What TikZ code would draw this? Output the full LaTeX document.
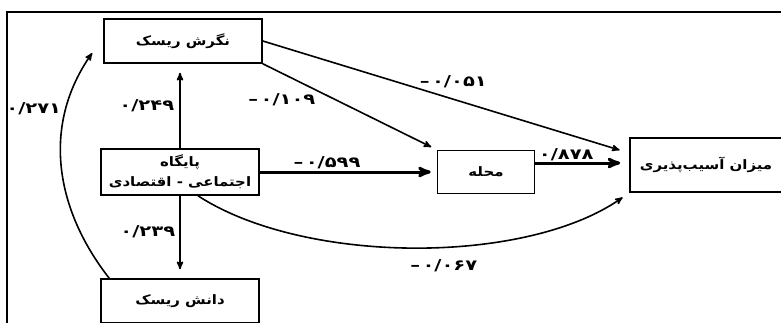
\documentclass[tikz,border=0pt]{standalone}
\usepackage{fontspec}
\newfontfamily\farsi[Script=Arabic,FakeStretch=1.15]{DejaVu Sans}
\newfontfamily\digits[FakeStretch=1.3]{DejaVu Sans}
\TeXXeTstate=1
\usetikzlibrary{arrows}

\begin{document}
\begin{tikzpicture}[->,>=stealth',x=1pt,y=1pt,line width=1.6pt,
  node distance=131pt,font=\farsi\bfseries\fontsize{13}{20}\selectfont]
  \tikzstyle{box}=[draw,minimum width=158pt,minimum height=44pt,inner sep=2pt]
  \tikzstyle{coef}=[draw=none,inner sep=2pt,font=\digits\bfseries\fontsize{15}{18}\selectfont]

  \useasboundingbox (0,0) rectangle (781,322);
  \draw[-,line width=1.8pt] (7,-2) -- (7,310) -- (783,310);

  \node[box]         (P) at (180,150) [align=center,minimum height=46pt]
    {\beginR پایگاه\endR\\ \beginR اجتماعی - اقتصادی\endR};
  \node[box]         (N) [above of=P,xshift=3pt] {\beginR نگرش ریسک\endR};
  \node[box]         (D) [below of=P,node distance=129pt] {\beginR دانش ریسک\endR};
  \node[box,minimum width=97pt,minimum height=43pt]
                     (M) [right of=P,node distance=306pt] {\beginR محله\endR};
  \node[box,minimum width=152pt,minimum height=54pt]
                     (V) [right of=M,node distance=220pt,yshift=7pt] {\beginR میزان آسیب‌پذیری\endR};

  \path (N.east) edge [shorten >=10pt] node[coef,pos=0.52,above=9pt] {–\,۰/۰۵۱} ([yshift=12pt]V.west)
        (N.south east) edge [shorten >=6pt] node[coef,pos=0.11,below=18pt] {–\,۰/۱۰۹} (M.north west)
        (P.east) edge [line width=3pt,shorten >=6pt] node[coef,pos=0.38,above] {–\,۰/۵۹۹} (M.west)
        ([yshift=9pt]M.east) edge [line width=3pt,shorten >=9pt] node[coef,pos=0.33,above=-1pt] {۰/۸۷۸} ([yshift=2pt]V.west)
        (P.north) edge [shorten >=9pt] node[coef,pos=0.5,left=3pt] {۰/۲۴۹} (P.north |- N.south)
        (P.south) edge [shorten >=9pt] node[coef,pos=0.44,left=2pt] {۰/۲۳۹} (P.south |- D.north)
        ([xshift=18pt]P.south) edge [out=-33,in=215,looseness=0.75,shorten >=8pt]
          node[coef,pos=0.56,below=10pt] {–\,۰/۰۶۷} (V.south west)
        ([xshift=9pt]D.north west) edge [out=128,in=235,looseness=1.0]
          node[coef,pos=0.75,left=2pt] {۰/۲۷۱} ([xshift=-11pt,yshift=-12pt]N.west)
        ;
\end{tikzpicture}
\end{document}
